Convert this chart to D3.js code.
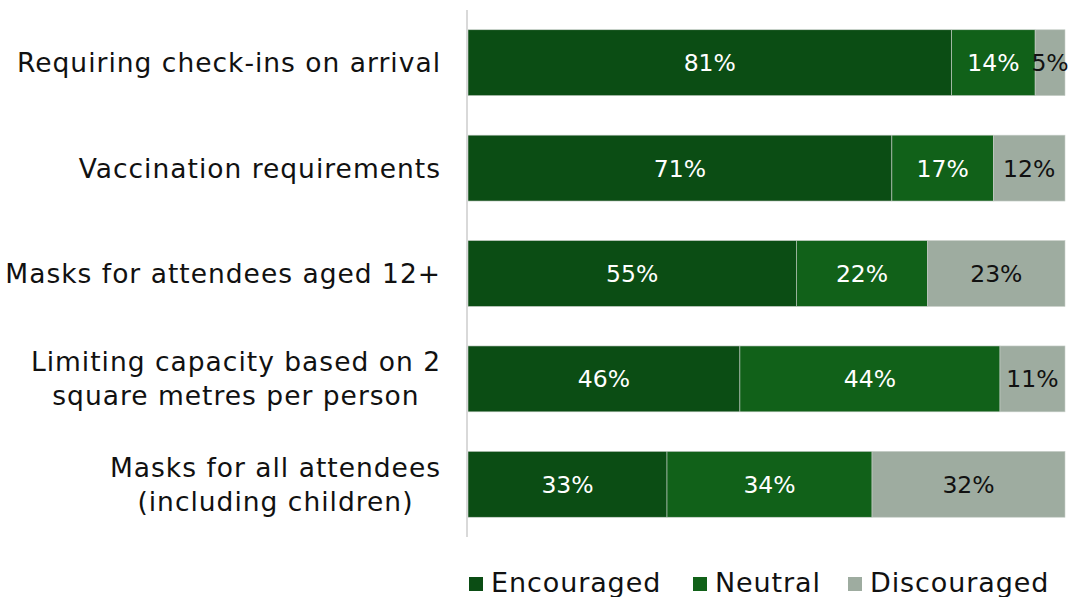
<!DOCTYPE html>
<html lang="en">
<head>
	<meta charset="utf-8">
	<title>Event measures</title>
	<style type="text/css">
		body { margin: 0; background: #fff; }
		svg { display: block; font-family: "DejaVu Sans", sans-serif; }
	</style>
</head>
<body>
	<svg id="chart" width="1081" height="597"></svg>

	<script src="https://cdn.jsdelivr.net/npm/d3@7"></script>
	<script type="text/javascript">
		// data
		var categories = [
			["Requiring check-ins on arrival"],
			["Vaccination requirements"],
			["Masks for attendees aged 12+"],
			["Limiting capacity based on 2", "square metres per person"],
			["Masks for all attendees", "(including children)"]
		];
		var series = ["Encouraged", "Neutral", "Discouraged"];
		var encouraged = [81, 71, 55, 46, 33];
		var neutral = [14, 17, 22, 44, 34];
		var discouraged = [5, 12, 23, 11, 32];

		var colors = ["#0b4d14", "#116119", "#9eaca0"];
		var textColors = ["#fff", "#fff", "#111"];

		var svg = d3.select("#chart");
		// note: "top" is reserved on window, so plot bounds get their own names
		var plotL = 468, plotR = 1065, plotT = 10, plotB = 537;

		var rows = categories.map(function (c, i) {
			var vals = [encouraged[i], neutral[i], discouraged[i]];
			var total = d3.sum(vals);
			var x0 = 0;
			var segs = vals.map(function (v, j) {
				var s = { row: i, key: j, v: v, x0: x0 / total, x1: (x0 + v) / total };
				x0 += v;
				return s;
			});
			return { label: c, segs: segs };
		});

		var y = d3.scaleBand()
			.domain(d3.range(categories.length))
			.range([plotT, plotB])
			.paddingInner(0.375)
			.paddingOuter(0.1875);

		var x = d3.scaleLinear().domain([0, 1]).range([plotL, plotR]);

		// bars
		var g = svg.append("g");
		rows.forEach(function (r, i) {
			g.selectAll(null)
				.data(r.segs)
				.enter().append("rect")
				.attr("x", function (d) { return x(d.x0); })
				.attr("y", y(i))
				.attr("width", function (d) { return x(d.x1) - x(d.x0); })
				.attr("height", y.bandwidth())
				.attr("fill", function (d) { return colors[d.key]; })
				.attr("stroke", "#c8cfc9")
				.attr("stroke-width", 0.6);

			g.selectAll(null)
				.data(r.segs)
				.enter().append("text")
				.attr("x", function (d) { return (x(d.x0) + x(d.x1)) / 2; })
				.attr("y", y(i) + y.bandwidth() / 2)
				.attr("dy", "0.36em")
				.attr("text-anchor", "middle")
				.attr("font-size", 23.5)
				.attr("fill", function (d) { return textColors[d.key]; })
				.text(function (d) { return d.v + "%"; });
		});

		// axis line
		svg.append("line")
			.attr("x1", plotL - 1).attr("x2", plotL - 1)
			.attr("y1", plotT).attr("y2", plotB)
			.attr("stroke", "#d9d9d9")
			.attr("stroke-width", 2);

		// category labels: block right-aligned at 440, lines centred in block
		var lineH = 34;
		rows.forEach(function (r, i) {
			var cy = y(i) + y.bandwidth() / 2;
			var t = svg.append("text")
				.attr("font-size", 26.5)
				.attr("letter-spacing", 1.0)
				.attr("fill", "#111")
				.attr("text-anchor", "middle");
			var spans = r.label.map(function (line, k) {
				return t.append("tspan")
					.attr("y", cy + (k - (r.label.length - 1) / 2) * lineH)
					.attr("dy", "0.36em")
					.text(line);
			});
			var w = d3.max(spans, function (s) { return s.node().getComputedTextLength(); });
			spans.forEach(function (s) { s.attr("x", 441 - w / 2); });
		});

		// legend
		var legX = [469, 693, 848];
		series.forEach(function (s, j) {
			svg.append("rect")
				.attr("x", legX[j]).attr("y", 577)
				.attr("width", 14).attr("height", 14)
				.attr("fill", colors[j]);
			svg.append("text")
				.attr("x", legX[j] + 22).attr("y", 592)
				.attr("font-size", 27)
				.attr("letter-spacing", 0.9)
				.attr("fill", "#111")
				.text(s);
		});
	</script>
</body>
</html>
